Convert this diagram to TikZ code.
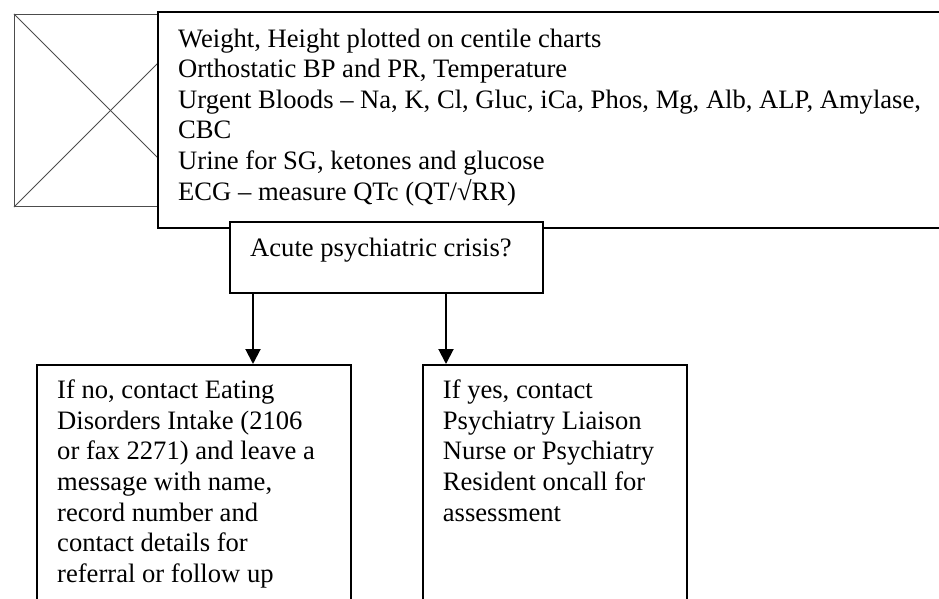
\documentclass[tikz,border=0pt]{standalone}
\usepackage{fontspec}
\setmainfont{Liberation Serif}
\usetikzlibrary{arrows.meta}
\begin{document}
\begin{tikzpicture}[x=1pt,y=-1pt,
  box/.style={draw=black, line width=2pt, fill=white, anchor=north west, inner sep=0pt},
  txt/.style={anchor=north west, align=left, inner sep=0pt, font=\fontsize{26.6}{30.6}\selectfont},
  arr/.style={line width=2pt, -{Triangle[width=15pt,length=15pt]}},
  ph/.style={draw=black!70, line width=1pt, anchor=north west, inner sep=0pt, minimum width=192pt, minimum height=192pt}]
\useasboundingbox (0,0) rectangle (939,599);
% placeholder picture
\node[ph] (img) at (14,14) {};
\draw[black!70, line width=1pt] (img.north west) -- (img.south east);
\draw[black!70, line width=1pt] (img.south west) -- (img.north east);
% main box
\node[box, minimum width=820pt, minimum height=216pt] (main) at (157,11) {};
\node[txt] (maintext) at (178,28.5) {Weight, Height plotted on centile charts\\
Orthostatic BP and PR, Temperature\\
Urgent Bloods – Na, K, Cl, Gluc, iCa, Phos, Mg, Alb, ALP, Amylase,\\
CBC\\
Urine for SG, ketones and glucose\\
ECG – measure QTc (QT/√RR)};
% question box
\node[box, minimum width=313pt, minimum height=71pt] (acute) at (229,221) {};
\node[txt] (acutetext) at (250,237.8) {Acute psychiatric crisis?};
% answer boxes
\node[box, minimum width=314pt, minimum height=260pt] (nobox) at (36,364) {};
\node[txt] (notext) at (57,379.8) {If no, contact Eating\\
Disorders Intake (2106\\
or fax 2271) and leave a\\
message with name,\\
record number and\\
contact details for\\
referral or follow up};
\node[box, minimum width=264pt, minimum height=260pt] (yesbox) at (422,364) {};
\node[txt] (yestext) at (442.7,379.8) {If yes, contact\\
Psychiatry Liaison\\
Nurse or Psychiatry\\
Resident oncall for\\
assessment};
% arrows
\coordinate (lx) at (253,0);
\coordinate (rx) at (446,0);
\draw[arr] (acute.south -| lx) -- (nobox.north -| lx);
\draw[arr] (acute.south -| rx) -- (yesbox.north -| rx);
\end{tikzpicture}
\end{document}
